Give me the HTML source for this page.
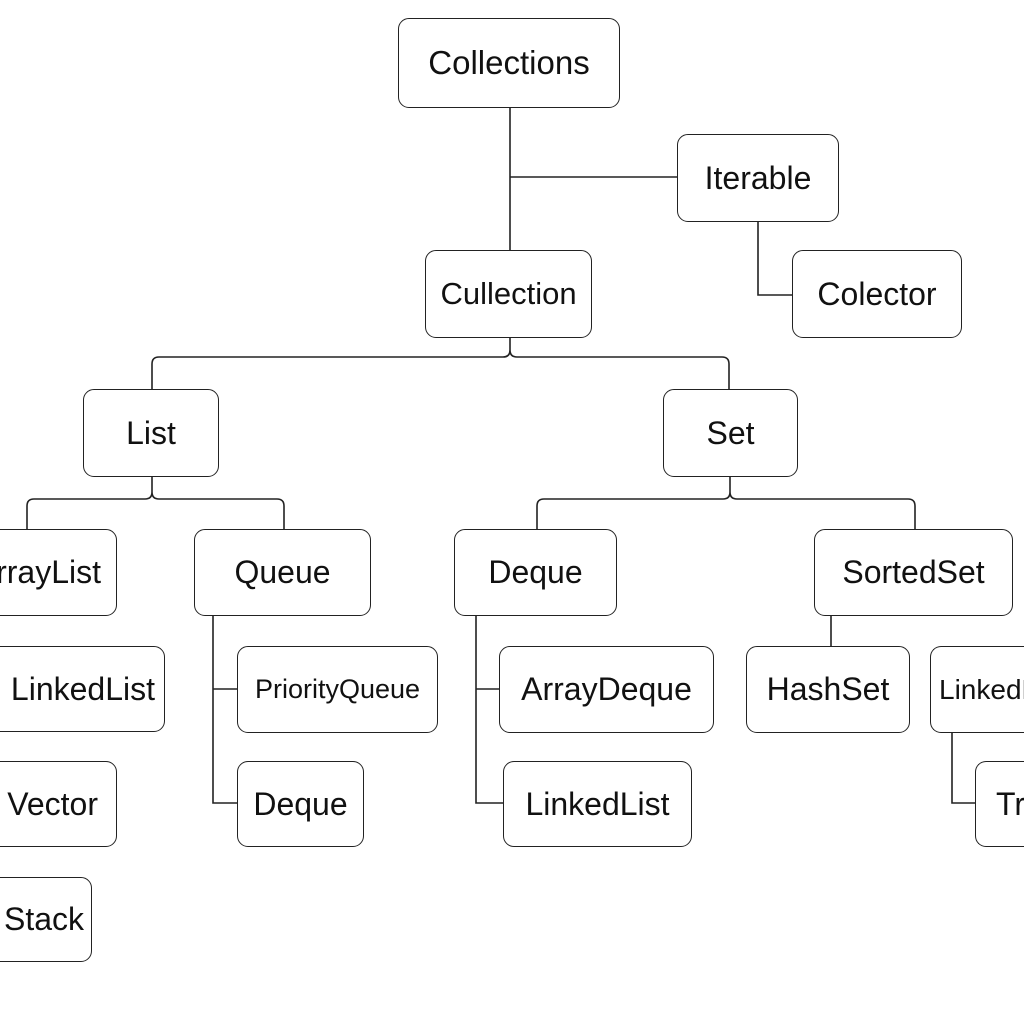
<!DOCTYPE html>
<html><head><meta charset="utf-8"><style>
html,body{margin:0;padding:0;background:#fff;}
body{width:1024px;height:1024px;position:relative;overflow:hidden;font-family:"Liberation Sans",Arial,sans-serif;}
#wrap{position:absolute;left:0;top:0;width:1024px;height:1024px;overflow:hidden;}
.b{position:absolute;box-sizing:border-box;border:1.6px solid #222;border-radius:11px;background:#fff;display:flex;align-items:center;justify-content:center;font-size:32px;color:#111;white-space:nowrap;overflow:hidden;}
svg{position:absolute;left:0;top:0;}
</style></head><body><div id="wrap">
<svg width="1024" height="1024" fill="none" stroke="#222" stroke-width="1.6">
<path d="M510 108V250M510 177H677"/>
<path d="M758 222V295H792"/>
<path d="M510 338V350Q510 357 503 357H159Q152 357 152 364V389M510 350Q510 357 517 357H722Q729 357 729 364V389"/>
<path d="M152 477V492Q152 499 145 499H34Q27 499 27 506V529M152 492Q152 499 159 499H277Q284 499 284 506V529"/>
<path d="M730 477V492Q730 499 723 499H544Q537 499 537 506V529M730 492Q730 499 737 499H908Q915 499 915 506V529"/>
<path d="M213 616V803H237M213 689H237"/>
<path d="M476 616V803H503M476 689H499"/>
<path d="M831 616V646"/>
<path d="M952 733V803H975"/>
</svg>
<div class="b" style="left:398px;top:18px;width:222px;height:90px;font-size:33px">Collections</div>
<div class="b" style="left:677px;top:134px;width:162px;height:88px">Iterable</div>
<div class="b" style="left:425px;top:250px;width:167px;height:88px;font-size:31px">Cullection</div>
<div class="b" style="left:792px;top:250px;width:170px;height:88px">Colector</div>
<div class="b" style="left:83px;top:389px;width:136px;height:88px">List</div>
<div class="b" style="left:663px;top:389px;width:135px;height:88px">Set</div>
<div class="b" style="left:-60px;top:529px;width:177px;height:87px;justify-content:flex-end;padding-right:15px">ArrayList</div>
<div class="b" style="left:194px;top:529px;width:177px;height:87px">Queue</div>
<div class="b" style="left:454px;top:529px;width:163px;height:87px">Deque</div>
<div class="b" style="left:814px;top:529px;width:199px;height:87px">SortedSet</div>
<div class="b" style="left:-30px;top:646px;width:195px;height:86px;justify-content:flex-end;padding-right:9px">LinkedList</div>
<div class="b" style="left:237px;top:646px;width:201px;height:87px;font-size:27px">PriorityQueue</div>
<div class="b" style="left:499px;top:646px;width:215px;height:87px">ArrayDeque</div>
<div class="b" style="left:746px;top:646px;width:164px;height:87px">HashSet</div>
<div class="b" style="left:930px;top:646px;width:94px;height:87px;justify-content:flex-start;padding-left:8px;font-size:28px;border-right:none;border-radius:11px 0 0 11px">LinkedHashSet</div>
<div class="b" style="left:-40px;top:761px;width:157px;height:86px;justify-content:flex-end;padding-right:18px">Vector</div>
<div class="b" style="left:237px;top:761px;width:127px;height:86px">Deque</div>
<div class="b" style="left:503px;top:761px;width:189px;height:86px">LinkedList</div>
<div class="b" style="left:975px;top:761px;width:49px;height:86px;justify-content:flex-start;padding-left:20px;border-right:none;border-radius:11px 0 0 11px">TreeSet</div>
<div class="b" style="left:-40px;top:877px;width:132px;height:85px;justify-content:flex-end;padding-right:7px">Stack</div>
</div></body></html>
